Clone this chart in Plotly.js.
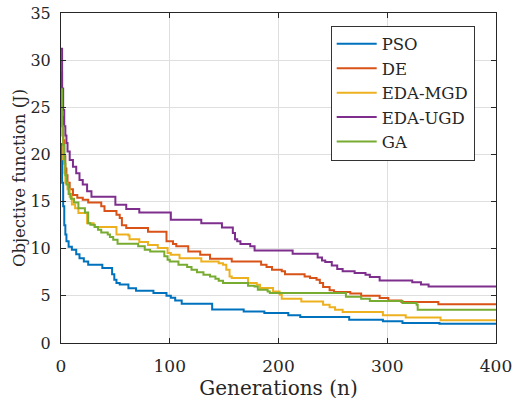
<!DOCTYPE html>
<html>
<head>
<meta charset="utf-8">
<script src="https://cdn.plot.ly/plotly-3.0.1.min.js"></script>
<style>html,body{margin:0;padding:0;background:#fff;}#chart{width:512px;height:403px;}</style>
</head>
<body>
<div id="chart"></div>
<script>
// Step-change points (generation, objective value)
const psoGen = [0, 1, 2, 3, 4, 5, 7, 10, 14, 17, 21, 25, 38, 47, 49, 51, 54, 62, 69, 85, 97, 101, 105, 111, 139, 168, 187, 209, 220, 265, 296, 314, 348, 400];
const psoVal = [21.1, 17, 14.5, 12.5, 11.5, 10.8, 10.2, 9.9, 9.4, 9.0, 8.65, 8.3, 7.95, 7.3, 6.7, 6.36, 6.2, 5.8, 5.55, 5.3, 5.0, 4.8, 4.5, 4.17, 3.55, 3.35, 3.18, 2.93, 2.76, 2.47, 2.3, 2.12, 2.05, 2.05];

const deGen = [0, 1, 2, 3, 4, 5, 6, 8, 11, 15, 20, 25, 37, 40, 51, 54, 56, 60, 80, 97, 103, 106, 117, 128, 137, 157, 184, 189, 194, 203, 206, 224, 229, 235, 238, 241, 247, 251, 266, 276, 293, 301, 313, 347, 400];
const deVal = [28.7, 24, 21.5, 19.8, 18.5, 17.8, 17, 16.3, 15.7, 15.4, 15.2, 14.9, 14.5, 14.0, 13.6, 13.25, 12.5, 12.2, 11.8, 10.8, 10.5, 10.25, 9.7, 9.37, 8.94, 8.65, 8.3, 8.06, 7.77, 7.6, 7.3, 7.06, 6.9, 6.7, 6.36, 5.94, 5.6, 5.4, 5.25, 5.0, 4.77, 4.5, 4.35, 4.1, 4.1];

const mgdGen = [0, 1, 2, 3, 4, 6, 8, 10, 13, 16, 24, 30, 31, 51, 62, 63, 72, 80, 89, 98, 101, 109, 129, 145, 149, 152, 155, 157, 172, 180, 183, 195, 201, 203, 221, 241, 247, 252, 259, 296, 317, 349, 400];
const mgdVal = [26.5, 22, 19.5, 18, 17, 16.3, 15.5, 14.7, 14.3, 13.8, 12.7, 12.5, 12.3, 11.5, 11.4, 11.0, 10.7, 10.4, 10.07, 9.54, 9.37, 9.0, 8.65, 8.45, 8.3, 7.77, 7.06, 6.9, 6.36, 6.18, 5.83, 5.47, 5.12, 4.7, 4.4, 4.06, 3.8, 3.53, 3.3, 2.93, 2.7, 2.4, 2.4];

const ugdGen = [0, 1, 2, 3, 4, 5, 6, 8, 11, 14, 17, 20, 24, 28, 50, 60, 72, 101, 129, 148, 158, 160, 162, 165, 174, 178, 213, 236, 240, 243, 249, 254, 259, 270, 280, 284, 293, 323, 331, 338, 400];
const ugdVal = [31.2, 27, 24.7, 23, 22, 21.2, 20.3, 19.4, 18.7, 18.0, 17.3, 16.8, 16.1, 15.5, 14.67, 14.2, 13.85, 13.07, 12.7, 12.26, 11.66, 11.0, 10.8, 10.5, 10.25, 9.8, 9.47, 9.08, 8.76, 8.59, 8.23, 7.84, 7.6, 7.42, 7.24, 7.0, 6.64, 6.45, 6.2, 6.0, 6.0];

const gaGen = [0, 1, 2, 3, 4, 5, 7, 9, 12, 16, 22, 25, 27, 31, 34, 37, 43, 45, 48, 52, 71, 77, 82, 95, 98, 100, 108, 116, 120, 125, 131, 137, 142, 145, 149, 172, 178, 181, 190, 192, 262, 276, 284, 314, 327, 328, 400];
const gaVal = [26.9, 23, 21, 19, 17.8, 16.8, 15.8, 15.3, 14.9, 14.3, 13.85, 12.7, 12.55, 12.3, 12.0, 11.73, 11.5, 11.24, 10.95, 10.53, 10.25, 9.9, 9.7, 9.2, 8.83, 8.65, 8.3, 8.06, 7.77, 7.5, 7.24, 7.06, 6.82, 6.6, 6.36, 6.08, 6.0, 5.65, 5.47, 5.3, 4.9, 4.7, 4.45, 4.24, 4.06, 3.53, 3.53];

const names = ['PSO', 'DE', 'EDA-MGD', 'EDA-UGD', 'GA'];
const colors = ['#0072BD', '#D95319', '#EDB120', '#7E2F8E', '#77AC30'];
const xs = [psoGen, deGen, mgdGen, ugdGen, gaGen];
const ys = [psoVal, deVal, mgdVal, ugdVal, gaVal];

const yTicks = [0, 5, 10, 15, 20, 25, 30, 35];
const xTicks = [0, 100, 200, 300, 400];

const FONT = "'DejaVu Serif', 'Liberation Serif', serif";

const traces = names.map((n, i) => ({
  x: xs[i], y: ys[i], name: n, type: 'scatter', mode: 'lines',
  line: {color: colors[i], width: 2, shape: 'hv'}
}));

const layout = {
  width: 512, height: 403,
  margin: {l: 61, r: 16, t: 13, b: 60, pad: 0},
  paper_bgcolor: '#fff', plot_bgcolor: '#fff',
  font: {family: FONT, size: 17, color: '#262626'},
  showlegend: true,
  legend: {
    x: 0.62, y: 0.962, xanchor: 'left', yanchor: 'top',
    bgcolor: '#fff', bordercolor: '#333', borderwidth: 1,
    font: {family: FONT, size: 16.5, color: '#262626'},
    itemwidth: 40,
    tracegroupgap: 0
  },
  xaxis: {
    range: [0, 400], tickvals: xTicks, ticktext: xTicks.map(String),
    showgrid: true, gridcolor: '#dfdfdf', gridwidth: 1,
    zeroline: false, showline: true, mirror: 'ticks', linecolor: '#262626', linewidth: 1,
    ticks: 'inside', ticklen: 5, tickcolor: '#262626',
    ticklabelstandoff: 8, ticklabeloverflow: 'allow',
    tickfont: {family: FONT, size: 17, color: '#262626'},
    title: {text: 'Generations (n)', font: {family: FONT, size: 20, color: '#262626'}, standoff: 4}
  },
  yaxis: {
    range: [0, 35], tickvals: yTicks, ticktext: yTicks.map(String),
    showgrid: true, gridcolor: '#dfdfdf', gridwidth: 1,
    zeroline: false, showline: true, mirror: 'ticks', linecolor: '#262626', linewidth: 1,
    ticks: 'inside', ticklen: 5, tickcolor: '#262626',
    ticklabelstandoff: 6, ticklabeloverflow: 'allow',
    tickfont: {family: FONT, size: 16, color: '#262626'},
    title: {text: 'Objective function (J)', font: {family: FONT, size: 16.5, color: '#262626'}, standoff: 0}
  }
};

Plotly.newPlot('chart', traces, layout, {staticPlot: true, displayModeBar: false});
</script>
</body>
</html>
